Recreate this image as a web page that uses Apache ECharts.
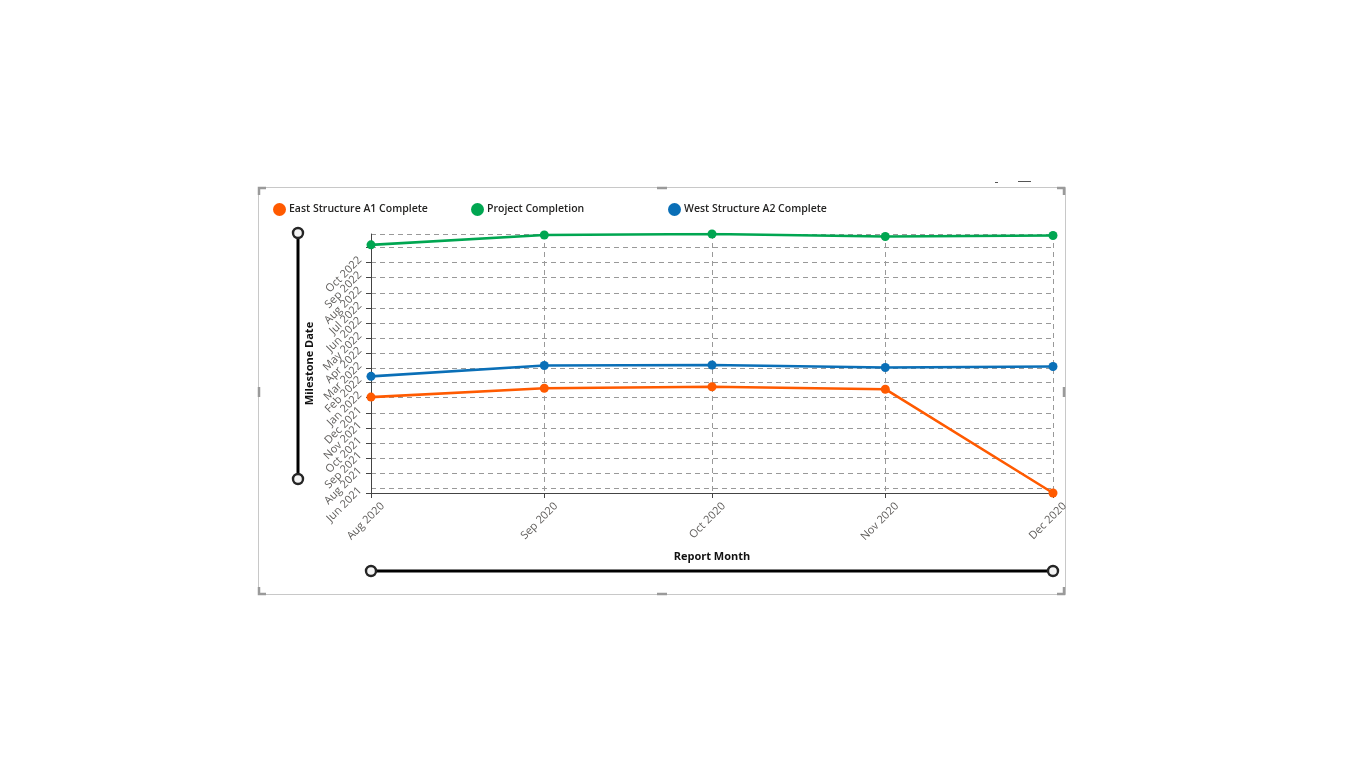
<!DOCTYPE html>
<html>
<head>
<meta charset="utf-8">
<script src="https://cdn.jsdelivr.net/npm/echarts@6/dist/echarts.min.js"></script>
<style>
html,body{margin:0;padding:0;background:#fff;}
#chart{width:1366px;height:768px;}
</style>
</head>
<body>
<div id="chart"></div>
<script>
// ---- data ----
const reportMonths = ['2020-08-01', '2020-09-01', '2020-10-01', '2020-11-01', '2020-12-01'];
const seriesNames = ['East Structure A1 Complete', 'Project Completion', 'West Structure A2 Complete'];
const eastA1 = ['2022-01-02', '2022-01-20', '2022-01-23', '2022-01-18', '2021-06-22'];
const projectCompletion = ['2022-11-06', '2022-11-26', '2022-11-28', '2022-11-23', '2022-11-25'];
const westA2 = ['2022-02-13', '2022-03-07', '2022-03-08', '2022-03-03', '2022-03-05'];
const monthNames = ['Jan','Feb','Mar','Apr','May','Jun','Jul','Aug','Sep','Oct','Nov','Dec'];

const colors = ['#ff5a00', '#00a651', '#0a6fb7'];
const FONT = '"Open Sans", "Noto Sans", sans-serif';

function fmtMonth(v) {
  const d = new Date(v);
  return monthNames[d.getMonth()] + ' ' + d.getFullYear();
}
function pairs(vals) {
  return reportMonths.map((m, i) => [m, vals[i]]);
}
// latest milestone date: y labels too close to the axis top are hidden (overlap)
const allDates = eastA1.concat(projectCompletion, westA2).map(s => new Date(s).getTime());
const yMaxVal = Math.max.apply(null, allDates);
function fmtY(v) {
  if (yMaxVal - v < 31 * 86400000) return '';
  return fmtMonth(v);
}

const chart = echarts.init(document.getElementById('chart'));

function handleLine(x1, y1, x2, y2) {
  return [
    { type: 'line', shape: { x1, y1, x2, y2 }, style: { stroke: '#000', lineWidth: 3 } },
    { type: 'circle', shape: { cx: x1, cy: y1, r: 5 }, style: { fill: '#f4f4f4', stroke: '#252525', lineWidth: 2.4 }, z: 10 },
    { type: 'circle', shape: { cx: x2, cy: y2, r: 5 }, style: { fill: '#f4f4f4', stroke: '#252525', lineWidth: 2.4 }, z: 10 }
  ];
}
function bracket(x, y, dx, dy) {
  return { type: 'polyline', shape: { points: [[x, y + dy * 7], [x, y], [x + dx * 7, y]] }, style: { stroke: '#9a9a9a', lineWidth: 2.5, fill: null } };
}
function legendAt(left, idx) {
  return {
    left: left, top: 203, padding: 0,
    icon: 'circle',
    itemWidth: 13, itemHeight: 13,
    textStyle: { fontSize: 10.5, fontWeight: 600, color: '#252423', fontFamily: FONT, padding: [0, 0, 0, -2] },
    data: [seriesNames[idx]]
  };
}

const labelBase = { fontSize: 11, color: '#605e5c', fontFamily: FONT };

const option = {
  animation: false,
  color: colors,
  textStyle: { fontFamily: FONT },
  legend: [legendAt(273, 0), legendAt(471, 1), legendAt(668, 2)],
  grid: { left: 371, top: 234, right: 313, bottom: 275, containLabel: false },
  xAxis: {
    type: 'time',
    min: 'dataMin', max: 'dataMax',
    splitNumber: 4,
    maxInterval: 31 * 86400000,
    name: 'Report Month',
    nameLocation: 'middle',
    nameGap: 58,
    nameTextStyle: { fontSize: 11, fontWeight: 'bold', color: '#111', fontFamily: FONT },
    axisLine: { show: true, lineStyle: { color: '#444', width: 1 } },
    axisTick: { show: true, length: 5, lineStyle: { color: '#444' } },
    axisLabel: Object.assign({ rotate: 45, margin: 11, padding: [17, -8, 0, 0], formatter: fmtMonth, hideOverlap: false, showMinLabel: true, showMaxLabel: true }, labelBase),
    splitLine: { show: true, lineStyle: { type: [5, 4], color: '#999', width: 1 } }
  },
  yAxis: {
    type: 'time',
    min: 'dataMin', max: 'dataMax',
    splitNumber: 18,
    maxInterval: 31 * 86400000,
    name: 'Milestone Date',
    nameLocation: 'middle',
    nameGap: 56,
    nameRotate: 90,
    nameTextStyle: { fontSize: 11, fontWeight: 'bold', color: '#111', fontFamily: FONT },
    axisLine: { show: true, lineStyle: { color: '#444', width: 1 } },
    axisTick: { show: true, length: 5, lineStyle: { color: '#444' } },
    axisLabel: Object.assign({ rotate: 45, margin: 11, padding: [0, -3, 6, 0], formatter: fmtY, hideOverlap: false, showMinLabel: true, showMaxLabel: false }, labelBase),
    splitLine: { show: true, lineStyle: { type: [5, 4], color: '#999', width: 1 } }
  },
  series: [
    { name: seriesNames[0], type: 'line', data: pairs(eastA1), symbol: 'circle', symbolSize: 9, lineStyle: { width: 2.6 } },
    { name: seriesNames[1], type: 'line', data: pairs(projectCompletion), symbol: 'circle', symbolSize: 9, lineStyle: { width: 2.6 } },
    { name: seriesNames[2], type: 'line', data: pairs(westA2), symbol: 'circle', symbolSize: 9, lineStyle: { width: 2.6 } }
  ],
  graphic: [
    { type: 'rect', shape: { x: 258.5, y: 187.5, width: 807, height: 407 }, style: { fill: null, stroke: '#c8c8c8', lineWidth: 1 }, silent: true },
    bracket(259, 188, 1, 1), bracket(1064, 188, -1, 1), bracket(259, 594, 1, -1), bracket(1064, 594, -1, -1),
    { type: 'line', shape: { x1: 657, y1: 188, x2: 667, y2: 188 }, style: { stroke: '#9a9a9a', lineWidth: 2.5 } },
    { type: 'line', shape: { x1: 657, y1: 594, x2: 667, y2: 594 }, style: { stroke: '#9a9a9a', lineWidth: 2.5 } },
    { type: 'line', shape: { x1: 259, y1: 387, x2: 259, y2: 397 }, style: { stroke: '#9a9a9a', lineWidth: 2.5 } },
    { type: 'line', shape: { x1: 1064, y1: 387, x2: 1064, y2: 397 }, style: { stroke: '#9a9a9a', lineWidth: 2.5 } },
    { type: 'line', shape: { x1: 995, y1: 182.5, x2: 998, y2: 182.5 }, style: { stroke: '#555', lineWidth: 1 } },
    { type: 'line', shape: { x1: 1018, y1: 181.5, x2: 1031, y2: 181.5 }, style: { stroke: '#555', lineWidth: 1 } },
    ...handleLine(298, 233, 298, 479),
    ...handleLine(371, 571, 1053, 571)
  ]
};
chart.setOption(option);
</script>
</body>
</html>
